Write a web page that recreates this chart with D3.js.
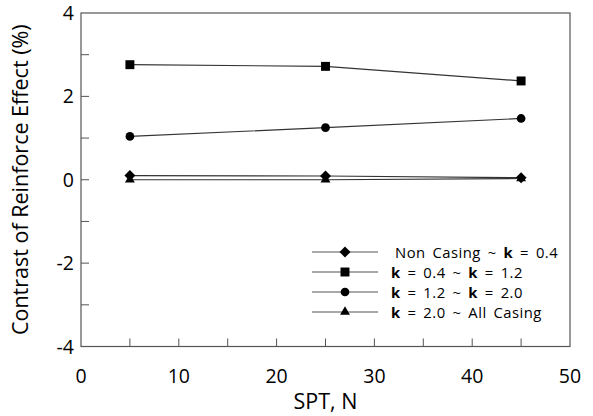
<!DOCTYPE html>
<html>
<head>
<meta charset="utf-8">
<script src="https://cdnjs.cloudflare.com/ajax/libs/d3/7.8.5/d3.min.js"></script>
<style>
body { margin: 0; background: #fff; }
svg { display: block; font-family: "Open Sans", "Noto Sans", sans-serif; }
.tick-label { font-size: 19.5px; fill: #000; }
.axis-title { font-size: 21.5px; fill: #000; }
.legend-text { font-size: 14.8px; fill: #000; letter-spacing: 0.5px; word-spacing: 2.5px; }
</style>
</head>
<body>
<svg id="chart" width="593" height="416"></svg>
<script>
// data
var spt = [5, 25, 45];
var seriesNames = ["Non Casing ~ k = 0.4", "k = 0.4 ~ k = 1.2", "k = 1.2 ~ k = 2.0", "k = 2.0 ~ All Casing"];
var nonCasingK04 = [0.10, 0.09, 0.05];
var k04K12 = [2.76, 2.72, 2.37];
var k12K20 = [1.04, 1.25, 1.47];
var k20AllCasing = [0.00, 0.00, 0.03];
var xTicks = [0, 10, 20, 30, 40, 50];
var yTicks = [-4, -2, 0, 2, 4];

// square rotated 45 degrees, as in the original plot
var symbolRhomb = {
  draw: function(context, size) {
    var r = Math.sqrt(size / 2);
    context.moveTo(0, -r);
    context.lineTo(r, 0);
    context.lineTo(0, r);
    context.lineTo(-r, 0);
    context.closePath();
  }
};

var series = [
  {name: seriesNames[0], values: nonCasingK04, sym: symbolRhomb, size: 60},
  {name: seriesNames[1], values: k04K12, sym: d3.symbolSquare, size: 80},
  {name: seriesNames[2], values: k12K20, sym: d3.symbolCircle, size: 60},
  {name: seriesNames[3], values: k20AllCasing, sym: d3.symbolTriangle, size: 42}
];

var svg = d3.select('#chart');
var x = d3.scaleLinear().domain([0, 50]).range([81, 570]);
var y = d3.scaleLinear().domain([-4, 4]).range([346.5, 13]);

// frame
svg.append('rect')
  .attr('x', x(0)).attr('y', y(4))
  .attr('width', x(50) - x(0)).attr('height', y(-4) - y(4))
  .attr('fill', 'none').attr('stroke', '#555').attr('stroke-width', 1.2);

// inward ticks
var xMinor = d3.range(5, 50, 5);
svg.selectAll('.xt').data(xMinor).enter().append('line')
  .attr('x1', function(d) { return x(d); }).attr('x2', function(d) { return x(d); })
  .attr('y1', y(-4)).attr('y2', y(-4) - 8)
  .attr('stroke', '#555');
var yMinor = d3.range(-3, 4, 1);
svg.selectAll('.yt').data(yMinor).enter().append('line')
  .attr('x1', x(0)).attr('x2', x(0) + 8)
  .attr('y1', function(d) { return y(d); }).attr('y2', function(d) { return y(d); })
  .attr('stroke', '#555');

// tick labels
svg.selectAll('.xl').data(xTicks).enter().append('text')
  .attr('class', 'tick-label')
  .attr('x', function(d) { return x(d); })
  .attr('y', y(-4) + 36)
  .attr('text-anchor', 'middle')
  .text(function(d) { return d; });
svg.selectAll('.yl').data(yTicks).enter().append('text')
  .attr('class', 'tick-label')
  .attr('x', x(0) - 7)
  .attr('y', function(d) { return y(d) + 7; })
  .attr('text-anchor', 'end')
  .text(function(d) { return d; });

// axis titles
svg.append('text').attr('class', 'axis-title')
  .attr('x', (x(0) + x(50)) / 2).attr('y', 409)
  .attr('text-anchor', 'middle').text('SPT, N');
svg.append('text').attr('class', 'axis-title')
  .attr('transform', 'translate(28,' + ((y(4) + y(-4)) / 2) + ') rotate(-90)')
  .attr('text-anchor', 'middle').text('Contrast of Reinforce Effect (%)');

// series
var line = d3.line()
  .x(function(d, i) { return x(spt[i]); })
  .y(function(d) { return y(d); });

series.forEach(function(s) {
  svg.append('path')
    .datum(s.values)
    .attr('d', line)
    .attr('fill', 'none')
    .attr('stroke', '#333')
    .attr('stroke-width', 1.2);
  svg.selectAll(null).data(s.values).enter().append('path')
    .attr('d', d3.symbol().type(s.sym).size(s.size))
    .attr('transform', function(d, i) { return 'translate(' + x(spt[i]) + ',' + y(d) + ')'; })
    .attr('fill', '#000');
});

// legend
var legendRows = [252, 272, 292, 312];
series.forEach(function(s, i) {
  var g = svg.append('g').attr('transform', 'translate(0,' + legendRows[i] + ')');
  g.append('line').attr('x1', 312).attr('x2', 378).attr('y1', 0).attr('y2', 0)
    .attr('stroke', '#555').attr('stroke-width', 1.2);
  g.append('path')
    .attr('d', d3.symbol().type(s.sym).size(s.size))
    .attr('transform', 'translate(345,0)')
    .attr('fill', '#000');
  var t = g.append('text').attr('class', 'legend-text')
    .attr('x', i === 0 ? 395 : 391).attr('y', 5.5);
  // bold "k" pieces
  var parts = s.name.split(/(k)/);
  parts.forEach(function(p) {
    if (p === '') return;
    var sp = t.append('tspan').text(p);
    if (p === 'k') sp.attr('font-weight', 'bold');
  });
});
</script>
</body>
</html>
